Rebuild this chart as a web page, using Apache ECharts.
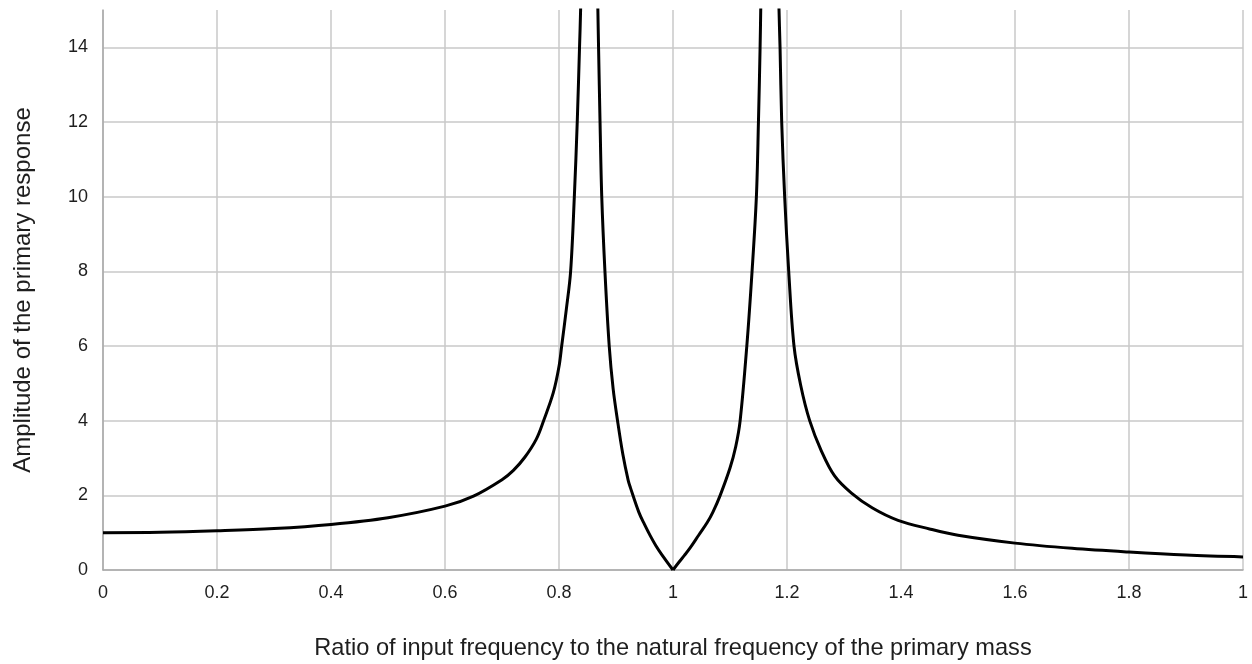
<!DOCTYPE html>
<html>
<head>
<meta charset="utf-8">
<title>Primary response amplitude</title>
<script src="https://cdn.jsdelivr.net/npm/echarts@6/dist/echarts.min.js"></script>
<style>
  html, body { margin: 0; padding: 0; background: #fff; }
  #chart { width: 1252px; height: 664px; }
</style>
</head>
<body>
<div id="chart"></div>
<script>
// frequency ratio (x) and amplitude (y)
const ratio = [
  0, 0.1, 0.2, 0.3, 0.4, 0.5, 0.6, 0.65, 0.7, 0.72, 0.74, 0.76, 0.773, 0.79, 0.8, 0.8047, 0.813, 0.8204, 0.8269, 0.832, 0.836, 0.8379, 0.84,
  0.866, 0.8682, 0.8694, 0.872, 0.875, 0.8806, 0.8881, 0.895, 0.9027, 0.912, 0.9214, 0.9254, 0.94, 0.95, 0.96, 0.97, 0.98, 1.0,
  1.01, 1.02, 1.03, 1.045, 1.06, 1.07, 1.0828, 1.1, 1.11, 1.1178, 1.1295, 1.1387, 1.1463, 1.1499, 1.1528, 1.1539, 1.156,
  1.184, 1.186, 1.1878, 1.1907, 1.1959, 1.203, 1.2123, 1.224, 1.2398, 1.26, 1.2835, 1.3131, 1.35, 1.3948, 1.45, 1.5, 1.6, 1.7, 1.8, 1.9, 2.0
]
const amplitude = [
  1.0, 1.01, 1.05, 1.11, 1.22, 1.4, 1.71, 1.98, 2.42, 2.67, 3.02, 3.5, 4.0, 4.75, 5.45, 6.0, 7.0, 8.0, 10.0, 12.0, 14.0, 15.0, 17.0,
  17.0, 15.0, 14.0, 12.0, 10.0, 8.0, 6.0, 4.85, 4.0, 3.1, 2.4, 2.2, 1.55, 1.22, 0.92, 0.65, 0.42, 0,
  0.2, 0.39, 0.59, 0.93, 1.27, 1.55, 2.0, 2.73, 3.3, 4.0, 6.0, 8.0, 10.0, 12.0, 14.0, 15.0, 17.0,
  17.0, 15.0, 14.0, 12.0, 10.0, 8.0, 6.0, 4.95, 4.0, 3.2, 2.52, 2.06, 1.66, 1.33, 1.1, 0.93, 0.72, 0.58, 0.48, 0.4, 0.35
]
// x tick labels as printed on the original (last one reads "1")
const xTickLabels = ['0', '0.2', '0.4', '0.6', '0.8', '1', '1.2', '1.4', '1.6', '1.8', '1']
const xTitle = 'Ratio of input frequency to the natural frequency of the primary mass'
const yTitle = 'Amplitude of the primary response'

const yMax = 15
const fontFamily = '"Liberation Sans", Arial, Helvetica, sans-serif'
const gridColor = '#c8c8c8'
const axisColor = '#a9a9a9'
const textColor = '#1e1e1e'

// split the curve into monotone pieces (at the off-chart peaks and at the notch)
// so smoothing does not overshoot at the sharp points
const pieces = []
let cur = []
ratio.forEach((r, i) => {
  const y = amplitude[i]
  const prev = cur.length ? cur[cur.length - 1] : null
  if (prev && prev[1] > yMax && y > yMax) {
    pieces.push(cur)
    cur = []
  }
  cur.push([r, y])
  if (y === 0 && i > 0) {
    pieces.push(cur)
    cur = [[r, y]]
  }
})
if (cur.length) pieces.push(cur)

const series = pieces.map(p => ({
  type: 'line',
  data: p,
  symbol: 'none',
  clip: true,
  smooth: 0.35,
  lineStyle: { color: '#000', width: 3 }
}))

const chart = echarts.init(document.getElementById('chart'), null, { renderer: 'canvas' })

const option = {
  animation: false,
  backgroundColor: '#fff',
  grid: {
    left: 103,
    right: 9,
    top: 10,
    bottom: 94,
    containLabel: false,
    outerBoundsMode: 'none'
  },
  xAxis: {
    type: 'value',
    min: 0,
    max: 2,
    interval: 0.2,
    name: xTitle,
    nameLocation: 'middle',
    nameGap: 66,
    nameTextStyle: { color: textColor, fontSize: 23.6, fontFamily: fontFamily },
    axisLine: { show: true, lineStyle: { color: axisColor, width: 1.5 } },
    axisTick: { show: false },
    axisLabel: {
      color: textColor,
      fontSize: 18,
      fontFamily: fontFamily,
      margin: 14,
      showMaxLabel: true,
      formatter: v => xTickLabels[Math.round(v / 0.2)]
    },
    splitLine: { show: true, lineStyle: { color: gridColor, width: 1.5 } }
  },
  yAxis: {
    type: 'value',
    min: 0,
    max: yMax,
    interval: 2,
    name: yTitle,
    nameLocation: 'middle',
    nameGap: 68,
    nameTextStyle: { color: textColor, fontSize: 24, fontFamily: fontFamily },
    axisLine: { show: true, lineStyle: { color: axisColor, width: 1.5 } },
    axisTick: { show: false },
    axisLabel: {
      color: textColor,
      fontSize: 18,
      fontFamily: fontFamily,
      margin: 15,
      showMaxLabel: false
    },
    splitLine: { show: true, showMaxLine: false, lineStyle: { color: gridColor, width: 1.5 } }
  },
  series: series
}

chart.setOption(option)
</script>
</body>
</html>
